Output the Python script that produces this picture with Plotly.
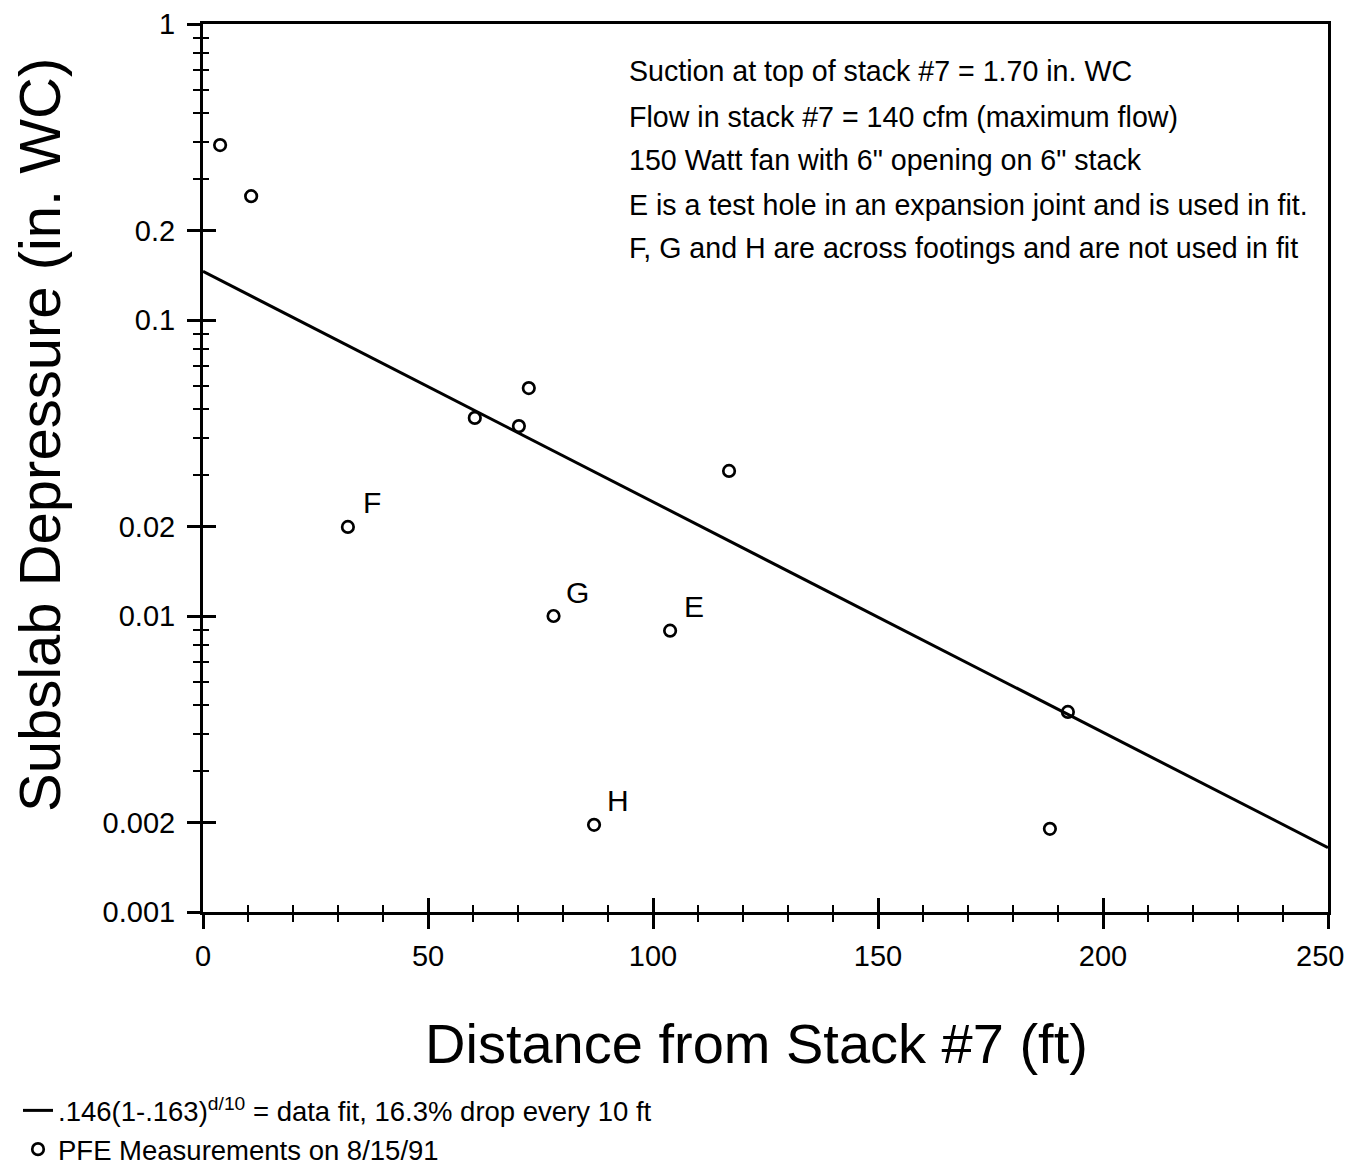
import math
import plotly.graph_objects as go

# ---- data ----
distance_ft = [3.8, 10.7, 32.2, 60.4, 70.2, 72.4, 77.9, 86.9, 103.8, 116.9, 188.2, 192.2]
depressure_inwc = [0.390, 0.262, 0.0200, 0.0467, 0.0438, 0.0589, 0.0100, 0.00197, 0.00892, 0.0309, 0.00191, 0.00474]
point_labels = ["", "", "F", "", "", "", "G", "H", "E", "", "", ""]

fit_x = [0, 250]
fit_y = [0.146, 0.00165]

x_major = [0, 50, 100, 150, 200, 250]
x_major_text = ["0", "50", "100", "150", "200", "250"]
x_minor = [10, 20, 30, 40, 60, 70, 80, 90, 110, 120, 130, 140, 160, 170, 180, 190, 210, 220, 230, 240]
y_major = [0.001, 0.002, 0.01, 0.02, 0.1, 0.2, 1]
y_major_text = ["0.001", "0.002", "0.01", "0.02", "0.1", "0.2", "1"]
y_minor = [0.003, 0.004, 0.005, 0.006, 0.007, 0.008, 0.009,
           0.03, 0.04, 0.05, 0.06, 0.07, 0.08, 0.09,
           0.3, 0.4, 0.5, 0.6, 0.7, 0.8, 0.9]

notes = [
    "Suction at top of stack #7 = 1.70 in. WC",
    "Flow in stack #7 = 140 cfm (maximum flow)",
    "150 Watt fan with 6\" opening on 6\" stack",
    "E is a test hole in an expansion joint and is used in fit.",
    "F, G and H are across footings and are not used in fit",
]

x_title = "Distance from Stack #7 (ft)"
y_title = "Subslab Depressure (in. WC)"
fit_name = ".146(1-.163)<sup>d/10</sup> = data fit, 16.3% drop every 10 ft"
pts_name = "PFE Measurements on 8/15/91"

FONT = "Liberation Sans, Arial, Helvetica, sans-serif"
OFF = 8  # page body margin
W, H = 1347, 1159
ML, MT = 195, 16
PW, PH = 1125, 888
MR = W - ML - PW
MB = H - MT - PH

def px_x(p):
    """page pixel x -> paper x"""
    return (p - OFF - ML) / PW

def px_y(p):
    """page pixel y -> paper y"""
    return (H - MB - (p - OFF)) / PH

fig = go.Figure()

fig.add_trace(go.Scatter(
    x=fit_x, y=fit_y, mode="lines", name=fit_name,
    line=dict(color="black", width=3),
))
fig.add_trace(go.Scatter(
    x=distance_ft, y=depressure_inwc, mode="markers", name=pts_name,
    marker=dict(symbol="circle-open", size=11.5, color="black", line=dict(width=2.7, color="black")),
))
# helper trace for the overlaid (inner tick) axes
fig.add_trace(go.Scatter(
    x=fit_x, y=fit_y, xaxis="x2", yaxis="y2", mode="lines",
    line=dict(width=0, color="rgba(0,0,0,0)"), showlegend=False, hoverinfo="skip",
))

axis_common = dict(showgrid=False, zeroline=False, tickcolor="black", tickwidth=2.5, automargin=False)

# last x tick label is drawn as an annotation nudged inward so it is not clipped at the window edge
x_tick_shown = x_major_text[:-1] + [""]

fig.update_layout(
    width=W, height=H,
    margin=dict(l=ML, r=MR, t=MT, b=MB, autoexpand=False),
    paper_bgcolor="white", plot_bgcolor="white",
    font=dict(family=FONT, color="black"),
    showlegend=True,
    legend=dict(
        x=px_x(18), y=px_y(1086), xanchor="left", yanchor="top",
        font=dict(size=27.5, family=FONT, color="black"),
        bgcolor="rgba(0,0,0,0)", borderwidth=0, tracegroupgap=0,
        itemwidth=30,
    ),
    xaxis=dict(
        **axis_common,
        range=[0, 250], tickmode="array", tickvals=x_major, ticktext=x_tick_shown,
        ticks="outside", ticklen=14,
        minor=dict(tickmode="array", tickvals=x_minor, ticks="outside", ticklen=7, tickwidth=2.2, tickcolor="black"),
        showline=True, linecolor="black", linewidth=3, mirror=True,
        tickfont=dict(size=29, family=FONT, color="black"),
        ticklabelstandoff=2, ticklabeloverflow="allow",
    ),
    xaxis2=dict(
        **axis_common,
        range=[0, 250], overlaying="x", anchor="y2", side="bottom",
        tickmode="array", tickvals=x_major, ticks="inside", ticklen=14,
        minor=dict(tickmode="array", tickvals=x_minor, ticks="inside", ticklen=7, tickwidth=2.2, tickcolor="black"),
        showticklabels=False, showline=False,
    ),
    yaxis=dict(
        **axis_common,
        type="log", range=[-3, 0], tickmode="array", tickvals=y_major, ticktext=y_major_text,
        ticks="outside", ticklen=13,
        minor=dict(tickmode="array", tickvals=y_minor, ticks="outside", ticklen=7, tickwidth=2.2, tickcolor="black"),
        showline=True, linecolor="black", linewidth=3, mirror=True,
        tickfont=dict(size=29, family=FONT, color="black"),
        ticklabelstandoff=6, ticklabeloverflow="allow",
    ),
    yaxis2=dict(
        **axis_common,
        type="log", range=[-3, 0], overlaying="y", anchor="x2", side="left",
        tickmode="array", tickvals=y_major, ticks="inside", ticklen=13,
        minor=dict(tickmode="array", tickvals=y_minor, ticks="inside", ticklen=6, tickwidth=2.2, tickcolor="black"),
        showticklabels=False, showline=False,
    ),
)

annotations = []
# last x tick label
annotations.append(dict(
    text=x_major_text[-1], x=x_major[-1], xref="x", yref="paper", y=px_y(956),
    xanchor="right", yanchor="middle", xshift=18, showarrow=False,
    font=dict(size=29, family=FONT, color="black"),
))
# axis titles
annotations.append(dict(
    text=x_title, xref="paper", yref="paper", x=px_x(756), y=px_y(1043),
    xanchor="center", yanchor="middle", showarrow=False,
    font=dict(size=56, family=FONT, color="black"),
))
annotations.append(dict(
    text=y_title, xref="paper", yref="paper", x=px_x(39), y=px_y(435),
    xanchor="center", yanchor="middle", showarrow=False, textangle=-90,
    font=dict(size=58, family=FONT, color="black"),
))
# notes block
note_rows = [71, 117, 160, 205, 248]
for txt, row in zip(notes, note_rows):
    annotations.append(dict(
        text=txt, xref="paper", yref="paper", x=px_x(627), y=px_y(row),
        xanchor="left", yanchor="middle", showarrow=False,
        font=dict(size=28.6, family=FONT, color="black"),
    ))
# point labels (log axis -> annotation y in log10 units)
for xv, yv, lab in zip(distance_ft, depressure_inwc, point_labels):
    if lab:
        annotations.append(dict(
            text=lab, x=xv, y=math.log10(yv), xref="x", yref="y", yanchor="middle", xanchor="center",
            xshift=24, yshift=24, showarrow=False,
            font=dict(size=30, family=FONT, color="black"),
        ))
fig.update_layout(annotations=annotations)

fig.write_html("out.html")
